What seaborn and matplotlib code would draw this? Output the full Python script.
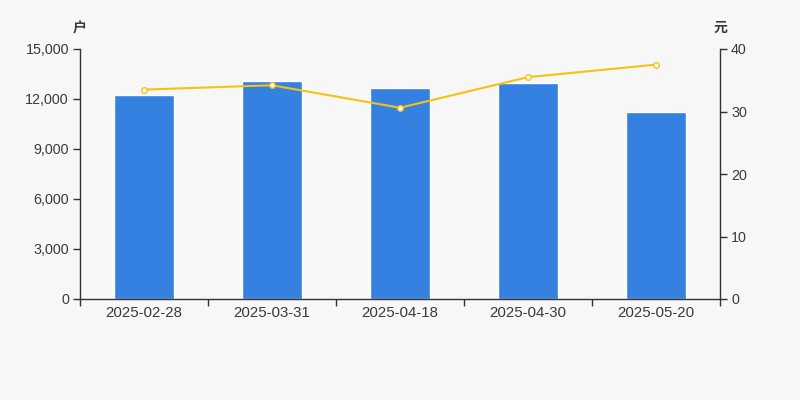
import matplotlib
matplotlib.use("Agg")
import matplotlib.pyplot as plt
import seaborn as sns
import pandas as pd
from matplotlib.ticker import FuncFormatter, FixedLocator

dates = ["2025-02-28", "2025-03-31", "2025-04-18", "2025-04-30", "2025-05-20"]
holders = [12240, 13100, 12660, 12980, 11200]
prices = [33.5, 34.2, 30.6, 35.5, 37.5]
left_ticks = [0, 3000, 6000, 9000, 12000, 15000]
right_ticks = [0, 10, 20, 30, 40]

sns.set_theme(style="white")
plt.rcParams['font.family'] = ['Liberation Sans', 'Noto Sans CJK SC', 'DejaVu Sans']

bg = "#f7f7f7"
text_c = "#3a3a3a"
axis_c = "#333333"

df = pd.DataFrame({"date": dates, "holders": holders, "price": prices})

fig = plt.figure(figsize=(8, 4), dpi=100, facecolor=bg)
ax = fig.add_axes([0.1, 0.2525, 0.8, 0.625])
ax.set_facecolor(bg)
sns.barplot(data=df, x="date", y="holders", ax=ax, color="#3481e2", saturation=1, width=0.47)
ax.set_xlim(-0.5, 4.5)
ax.set_ylim(0, 15000)
ax.yaxis.set_major_locator(FixedLocator(left_ticks))
ax.yaxis.set_major_formatter(FuncFormatter(lambda v, p: f"{int(v):,}"))
ax.set_xlabel("")
ax.set_ylabel("")

ax2 = ax.twinx()
sns.lineplot(data=df, x="date", y="price", ax=ax2, color="#f5c211", linewidth=1.5,
             marker="o", markersize=4, markerfacecolor="white", markeredgecolor="#f5c211",
             markeredgewidth=1, sort=False)
ax2.set_ylim(0, 40)
ax2.yaxis.set_major_locator(FixedLocator(right_ticks))
ax2.set_xlabel("")
ax2.set_ylabel("")
ax.set_xlim(-0.5, 4.5)

for a in (ax, ax2):
    for s in a.spines.values():
        s.set_color(axis_c)
        s.set_linewidth(1)
    a.spines['top'].set_visible(False)
    a.grid(False)

ax.spines['right'].set_visible(False)
ax2.spines['left'].set_visible(False)
ax2.spines['bottom'].set_visible(False)

ax.tick_params(axis='y', which='major', direction='out', length=5, width=1, color=axis_c,
               labelcolor=text_c, labelsize=10.3, pad=3, left=True)
ax2.tick_params(axis='y', which='major', direction='out', length=5, width=1, color=axis_c,
                labelcolor=text_c, labelsize=10.3, pad=3, right=True)
ax.tick_params(axis='x', which='major', length=0, labelcolor=text_c, labelsize=10.8, pad=5)
ax.xaxis.set_minor_locator(FixedLocator([-0.5, 0.5, 1.5, 2.5, 3.5, 4.5]))
ax.tick_params(axis='x', which='minor', direction='out', length=5, width=1, color=axis_c, bottom=True)

fig.text(0.1, 1 - 28 / 400, "户", ha="center", va="center", fontsize=10,
         color=text_c, family=['Noto Sans CJK SC', 'DejaVu Sans'], fontweight='bold')
fig.text(0.9, 1 - 28 / 400, "元", ha="center", va="center", fontsize=10,
         color=text_c, family=['Noto Sans CJK SC', 'DejaVu Sans'], fontweight='bold')

fig.savefig("out.png", dpi=100, facecolor=bg)
